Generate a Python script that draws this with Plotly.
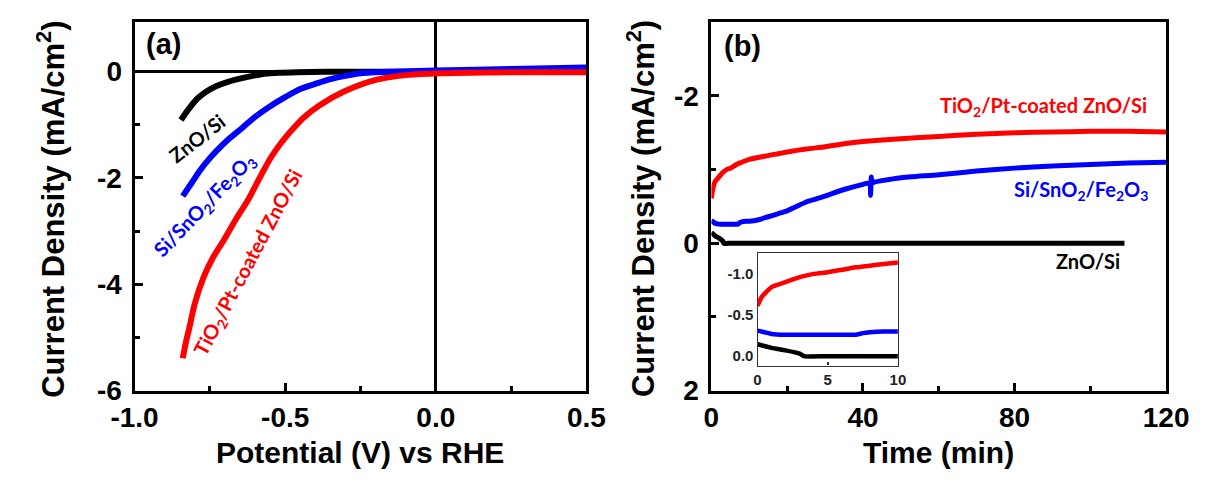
import plotly.graph_objects as go

# ---------------- Panel (a): LSV curves ----------------
v_zno = [-0.846, -0.82, -0.792, -0.76, -0.728, -0.69, -0.643, -0.60, -0.569, -0.52, -0.46, -0.3, 0.0, 0.25, 0.5]
j_zno = [-0.91, -0.70, -0.51, -0.37, -0.27, -0.19, -0.12, -0.07, -0.04, -0.02, -0.01, 0.0, 0.0, 0.0, 0.0]

v_sno = [-0.84, -0.81, -0.783, -0.755, -0.728, -0.69, -0.643, -0.60, -0.547, -0.50, -0.452, -0.40,
         -0.356, -0.30, -0.249, -0.14, 0.0, 0.25, 0.5]
j_sno = [-2.34, -2.09, -1.86, -1.66, -1.49, -1.28, -1.06, -0.85, -0.64, -0.48, -0.33, -0.23,
         -0.15, -0.08, -0.03, 0.0, 0.02, 0.05, 0.08]

v_tio = [-0.84, -0.83, -0.819, -0.80, -0.771, -0.74, -0.707, -0.665, -0.623, -0.585, -0.547, -0.515,
         -0.483, -0.44, -0.388, -0.303, -0.196, -0.09, 0.016, 0.25, 0.5]
j_tio = [-5.39, -5.10, -4.84, -4.36, -3.87, -3.50, -3.20, -2.79, -2.41, -2.00, -1.61, -1.35,
         -1.13, -0.87, -0.64, -0.37, -0.15, -0.06, -0.03, -0.01, -0.01]

# ---------------- Panel (b): chronoamperometry ----------------
t_tio = [0, 0.3, 1, 2, 3, 4, 5, 6, 7, 8, 9, 10, 15, 20, 25, 30, 35, 40, 50, 60, 70, 80, 90, 100, 110, 120]
i_tio = [-0.61, -0.72, -0.84, -0.90, -0.96, -1.00, -1.02, -1.05, -1.08, -1.10, -1.12, -1.14, -1.19, -1.24,
         -1.28, -1.31, -1.35, -1.38, -1.42, -1.45, -1.48, -1.50, -1.51, -1.52, -1.52, -1.51]

t_sno = [0, 0.5, 1, 2, 3, 4, 5, 6, 7, 7.5, 8, 9, 10, 12.5, 15, 17.5, 20, 22.5, 25, 27.5, 30, 35, 40,
         41.8, 42, 42.2, 42.4, 43, 45, 50, 60, 70, 80, 90, 100, 110, 120]
i_sno = [-0.31, -0.29, -0.27, -0.26, -0.26, -0.26, -0.26, -0.26, -0.26, -0.28, -0.29, -0.30, -0.30,
         -0.32, -0.36, -0.40, -0.44, -0.50, -0.56, -0.60, -0.64, -0.73, -0.80,
         -0.82, -0.65, -0.90, -0.82, -0.83, -0.85, -0.89, -0.93, -0.98, -1.02, -1.05, -1.07, -1.09, -1.10]

t_zno = [0, 1, 2, 3, 3.3, 5, 10, 20, 40, 60, 80, 100, 109]
i_zno = [-0.145, -0.10, -0.07, -0.03, 0.0, 0.0, 0.0, 0.0, 0.0, 0.0, 0.0, 0.0, 0.0]

# ---------------- Tick labels ----------------
a_xticks = [-1.0, -0.5, 0.0, 0.5]
a_xtext = ["-1.0", "-0.5", "0.0", "0.5"]
a_yticks = [-6, -4, -2, 0]
a_ytext = ["-6", "-4", "-2", "0"]
b_xticks = [0, 40, 80, 120]
b_xtext = ["0", "40", "80", "120"]
b_yticks = [-2, 0, 2]
b_ytext = ["-2", "0", "2"]
in_xticks = [0, 5, 10]
in_xtext = ["0", "5", "10"]
in_yticks = [-1.0, -0.5, 0.0]
in_ytext = ["-1.0", "-0.5", "0.0"]

INSET_END = 10

RED = "#FF0000"
BLUE = "#0000FF"
BLACK = "#000000"

def bold(lst):
    return ["<b>%s</b>" % s for s in lst]

fig = go.Figure()

# panel (a)
for v, j, c in [(v_zno, j_zno, BLACK), (v_sno, j_sno, BLUE), (v_tio, j_tio, RED)]:
    fig.add_trace(go.Scatter(x=v, y=j, mode="lines",
                             line=dict(color=c, width=6, shape="spline", smoothing=0.8),
                             xaxis="x", yaxis="y", showlegend=False))

# panel (b)
for t, i, c in [(t_zno, i_zno, BLACK), (t_sno, i_sno, BLUE), (t_tio, i_tio, RED)]:
    fig.add_trace(go.Scatter(x=t, y=i, mode="lines",
                             line=dict(color=c, width=5, shape="spline", smoothing=0.5),
                             xaxis="x2", yaxis="y2", showlegend=False))

# inset (first 10 min)
for t, i, c in [(t_zno, i_zno, BLACK), (t_sno, i_sno, BLUE), (t_tio, i_tio, RED)]:
    ts = [a for a in t if a <= INSET_END]
    iv = [b for a, b in zip(t, i) if a <= INSET_END]
    fig.add_trace(go.Scatter(x=ts, y=iv, mode="lines",
                             line=dict(color=c, width=4.5, shape="spline", smoothing=0.5),
                             xaxis="x3", yaxis="y3", showlegend=False))

W, H = 1217, 484
def px(x):
    return x / W
def py(y):
    return (H - y) / H

tickfont = dict(family="Liberation Sans, Arial", size=28, color="black")
insetfont = dict(family="Liberation Sans, Arial", size=15, color="#222")

main_ax = dict(showline=True, linewidth=3, linecolor="black", mirror=True, ticks="inside",
               ticklen=8, tickwidth=3, tickcolor="black", showgrid=False, tickfont=tickfont,
               tickmode="array")

fig.update_layout(
    width=W, height=H, margin=dict(l=0, r=0, t=0, b=0),
    paper_bgcolor="white", plot_bgcolor="white",
    xaxis=dict(main_ax, domain=[px(115), px(585)], range=[-1.0, 0.5], tickvals=a_xticks,
               ticktext=bold(a_xtext), anchor="y", zeroline=True, zerolinecolor="black", zerolinewidth=3,
               minor=dict(ticks="inside", ticklen=5, tickwidth=3, tickcolor="black", dtick=0.25,
                          tick0=0, showgrid=False)),
    yaxis=dict(main_ax, domain=[py(404), py(23)], range=[-6, 0.93], tickvals=a_yticks,
               ticktext=bold(a_ytext), anchor="x", zeroline=True, zerolinecolor="black", zerolinewidth=3,
               ticklabelstandoff=4,
               minor=dict(ticks="inside", ticklen=5, tickwidth=3, tickcolor="black", dtick=1,
                          tick0=0, showgrid=False)),
    xaxis2=dict(main_ax, domain=[px(715), px(1188)], range=[0, 120], tickvals=b_xticks,
                ticktext=bold(b_xtext), anchor="y2", zeroline=False,
                minor=dict(ticks="inside", ticklen=5, tickwidth=3, tickcolor="black", dtick=20,
                           tick0=0, showgrid=False)),
    yaxis2=dict(main_ax, domain=[py(404), py(23)], range=[2, -3], tickvals=b_yticks,
                ticktext=bold(b_ytext), anchor="x2", zeroline=False, ticklabelstandoff=4,
                minor=dict(ticks="inside", ticklen=5, tickwidth=3, tickcolor="black", dtick=1,
                           tick0=0, showgrid=False)),
    xaxis3=dict(domain=[px(763), px(909)], range=[0, 10], tickmode="array", tickvals=in_xticks,
                ticktext=bold(in_xtext), anchor="y3", showline=True, linewidth=1.2, linecolor="#333",
                mirror=True, ticks="inside", ticklen=3, tickwidth=1.5, tickcolor="#333",
                showgrid=False, zeroline=False, tickfont=insetfont),
    yaxis3=dict(domain=[py(378), py(262)], range=[0.114, -1.25], tickmode="array",
                tickvals=in_yticks, ticktext=bold(in_ytext), anchor="x3", showline=True, linewidth=1.2,
                linecolor="#333", mirror=True, ticks="", showgrid=False, zeroline=False,
                tickfont=insetfont),
)

title_font = dict(family="Liberation Sans, Arial", size=30, color="black")
label_font = dict(family="Lato, Open Sans", size=20)

annotations = [
    dict(text="<b>Current Density (mA/cm<sup>2</sup>)</b>", x=px(28), y=py(216), textangle=-90,
         font=dict(title_font, size=31)),
    dict(text="<b>Current Density (mA/cm<sup>2</sup>)</b>", x=px(642), y=py(216), textangle=-90,
         font=dict(title_font, size=31)),
    dict(text="<b>Potential (V) vs RHE</b>", x=px(350), y=py(468), font=title_font),
    dict(text="<b>Time (min)</b>", x=px(951), y=py(468), font=title_font),
    dict(text="<b>(a)</b>", x=px(145), y=py(46), font=dict(title_font, size=29)),
    dict(text="<b>(b)</b>", x=px(747), y=py(48), font=dict(title_font, size=29)),
    dict(text="<b>ZnO/Si</b>", x=px(180), y=py(143), textangle=-38, font=dict(label_font, color=BLACK)),
    dict(text="<b>Si/SnO<sub>2</sub>/Fe<sub>2</sub>O<sub>3</sub></b>", x=px(188), y=py(213), textangle=-46,
         font=dict(label_font, color=BLUE)),
    dict(text="<b>TiO<sub>2</sub>/Pt-coated ZnO/Si</b>", x=px(233), y=py(272), textangle=-62,
         font=dict(label_font, color=RED)),
    dict(text="<b>TiO<sub>2</sub>/Pt-coated ZnO/Si</b>", x=px(1060), y=py(110),
         font=dict(label_font, color=RED)),
    dict(text="<b>Si/SnO<sub>2</sub>/Fe<sub>2</sub>O<sub>3</sub></b>", x=px(1099), y=py(197),
         font=dict(label_font, color=BLUE)),
    dict(text="<b>ZnO/Si</b>", x=px(1107), y=py(270), font=dict(label_font, color=BLACK)),
]
for a in annotations:
    a.update(xref="paper", yref="paper", showarrow=False, xanchor="center", yanchor="middle")
fig.update_layout(annotations=annotations)

fig.write_html("out.html")
